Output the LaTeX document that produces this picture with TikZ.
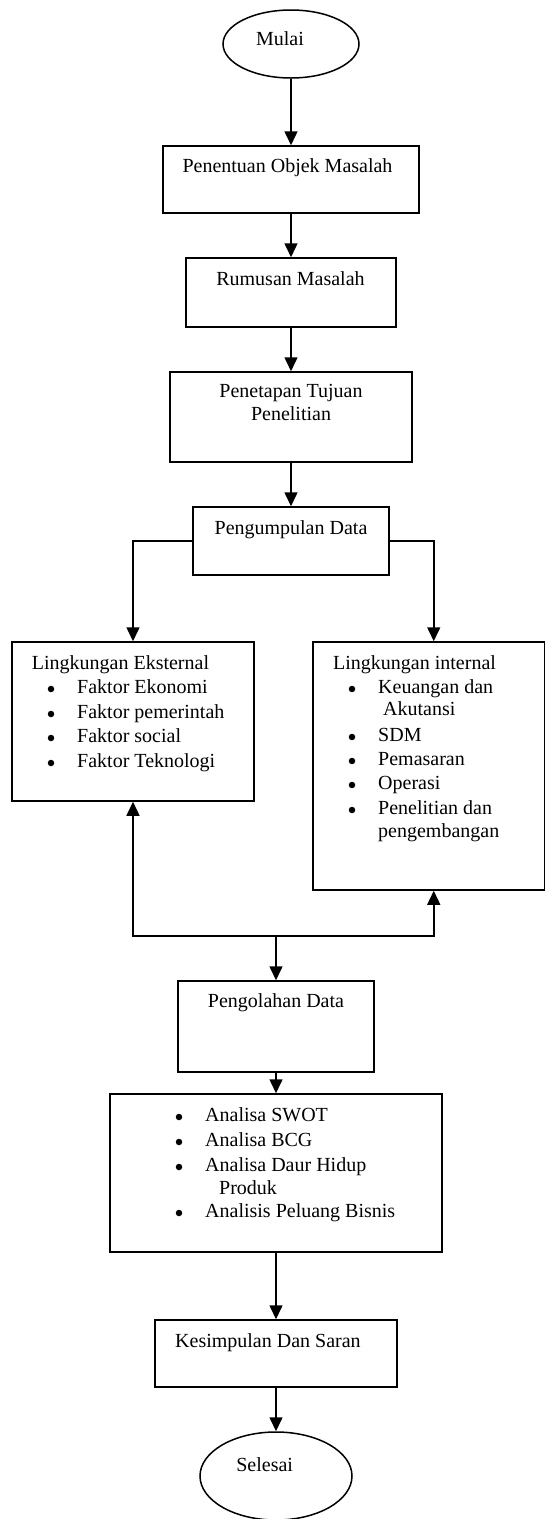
\documentclass[tikz,border=0pt]{standalone}
\usepackage{fontspec}
\setmainfont{Liberation Serif}
\usetikzlibrary{arrows.meta,shapes.geometric}
\tikzset{
  box/.style={draw, rectangle, line width=1.5pt, inner sep=0pt},
  oval/.style={draw, ellipse, line width=1.5pt, inner sep=0pt},
  arr/.style={-{Triangle[length=14pt,width=13pt]}, line width=1.5pt},
  txt/.style={inner sep=0pt, text height=14pt, text depth=4.4pt},
  lt/.style={txt, anchor=west},
  bul/.style={circle, fill=black, draw=none, minimum size=6.5pt, inner sep=0pt}
}
\begin{document}
\begin{tikzpicture}[x=1pt,y=-1pt,font=\fontsize{20}{24}\selectfont]
\useasboundingbox (0,0) rectangle (546,1519);
\fill[white] (0,0) rectangle (546,1519);

% Start
\node[oval, minimum width=136, minimum height=68] (mulai) at (291,44) {};
\node[txt] (tmulai) at (280,41) {Mulai};

% Box 1
\node[box, minimum width=256, minimum height=67] (b1) at (291,179.5) {};
\node[txt] (t1) at (287.5,168) {Penentuan Objek Masalah};

% Box 2
\node[box, minimum width=210, minimum height=69] (b2) at (291,292.5) {};
\node[txt] (t2) at (290.5,281) {Rumusan Masalah};

% Box 3
\node[box, minimum width=242, minimum height=90] (b3) at (291,417) {};
\node[txt] (t3a) at (291,393) {Penetapan Tujuan};
\node[txt] (t3b) at (291,416) {Penelitian};

% Box 4
\node[box, minimum width=196, minimum height=68] (b4) at (291,541) {};
\node[txt] (t4) at (291,530) {Pengumpulan Data};

% External box
\node[box, minimum width=242, minimum height=159] (ext) at (133,721.5) {};
\node[lt] (e0) at (31.7,665) {Lingkungan Eksternal};
\node[bul] (eb1) at (51,689) {};
\node[lt] (e1) at (77,689) {Faktor Ekonomi};
\node[bul] (eb2) at (51,714) {};
\node[lt] (e2) at (77,714) {Faktor pemerintah};
\node[bul] (eb3) at (51,738) {};
\node[lt] (e3) at (77,738) {Faktor social};
\node[bul] (eb4) at (51,763) {};
\node[lt] (e4) at (77,763) {Faktor Teknologi};

% Internal box
\node[box, minimum width=231.5, minimum height=248] (int) at (428.75,766) {};
\node[lt] (i0) at (333,665) {Lingkungan internal};
\node[bul] (ib1) at (352,689) {};
\node[lt] (i1) at (378,689) {Keuangan dan};
\node[lt] (i1b) at (383,711) {Akutansi};
\node[bul] (ib2) at (352,737) {};
\node[lt] (i2) at (378,737) {SDM};
\node[bul] (ib3) at (352,761) {};
\node[lt] (i3) at (378,761) {Pemasaran};
\node[bul] (ib4) at (352,785) {};
\node[lt] (i4) at (378,785) {Operasi};
\node[bul] (ib5) at (352,810) {};
\node[lt] (i5) at (378,810) {Penelitian dan};
\node[lt] (i5b) at (378,833) {pengembangan};

% Pengolahan
\node[box, minimum width=196, minimum height=91] (peng) at (276,1026.5) {};
\node[txt] (tp) at (276,1003) {Pengolahan Data};

% Analysis
\node[box, minimum width=332, minimum height=158] (ana) at (276,1173) {};
\node[bul] (ab1) at (179,1117) {};
\node[lt] (a1) at (205,1117) {Analisa SWOT};
\node[bul] (ab2) at (179,1142) {};
\node[lt] (a2) at (205,1142) {Analisa BCG};
\node[bul] (ab3) at (179,1167) {};
\node[lt] (a3) at (205,1167) {Analisa Daur Hidup};
\node[lt] (a3b) at (219,1190) {Produk};
\node[bul] (ab4) at (179,1213) {};
\node[lt] (a4) at (205,1213) {Analisis Peluang Bisnis};

% Kesimpulan
\node[box, minimum width=242, minimum height=67] (kes) at (276,1353.5) {};
\node[lt] (tk) at (175,1343) {Kesimpulan Dan Saran};

% End
\node[oval, minimum width=152, minimum height=88] (selesai) at (276,1476) {};
\node[txt] (ts) at (264.7,1467) {Selesai};

% Connectors
\draw[arr] (mulai) -- (b1);
\draw[arr] (b1) -- (b2);
\draw[arr] (b2) -- (b3);
\draw[arr] (b3) -- (b4);
\draw[arr] (b4.west) -| (ext.north);
\draw[arr] (b4.east) -| ([xshift=5pt]int.north);
\coordinate (j) at (276,936);
\draw[arr] (j) -| (ext.south);
\draw[arr] (j) -| ([xshift=5pt]int.south);
\draw[arr] (j) -- (peng.north);
\draw[arr] (peng) -- (ana);
\draw[arr] (ana) -- (kes);
\draw[arr] (kes) -- (selesai);
\end{tikzpicture}
\end{document}
